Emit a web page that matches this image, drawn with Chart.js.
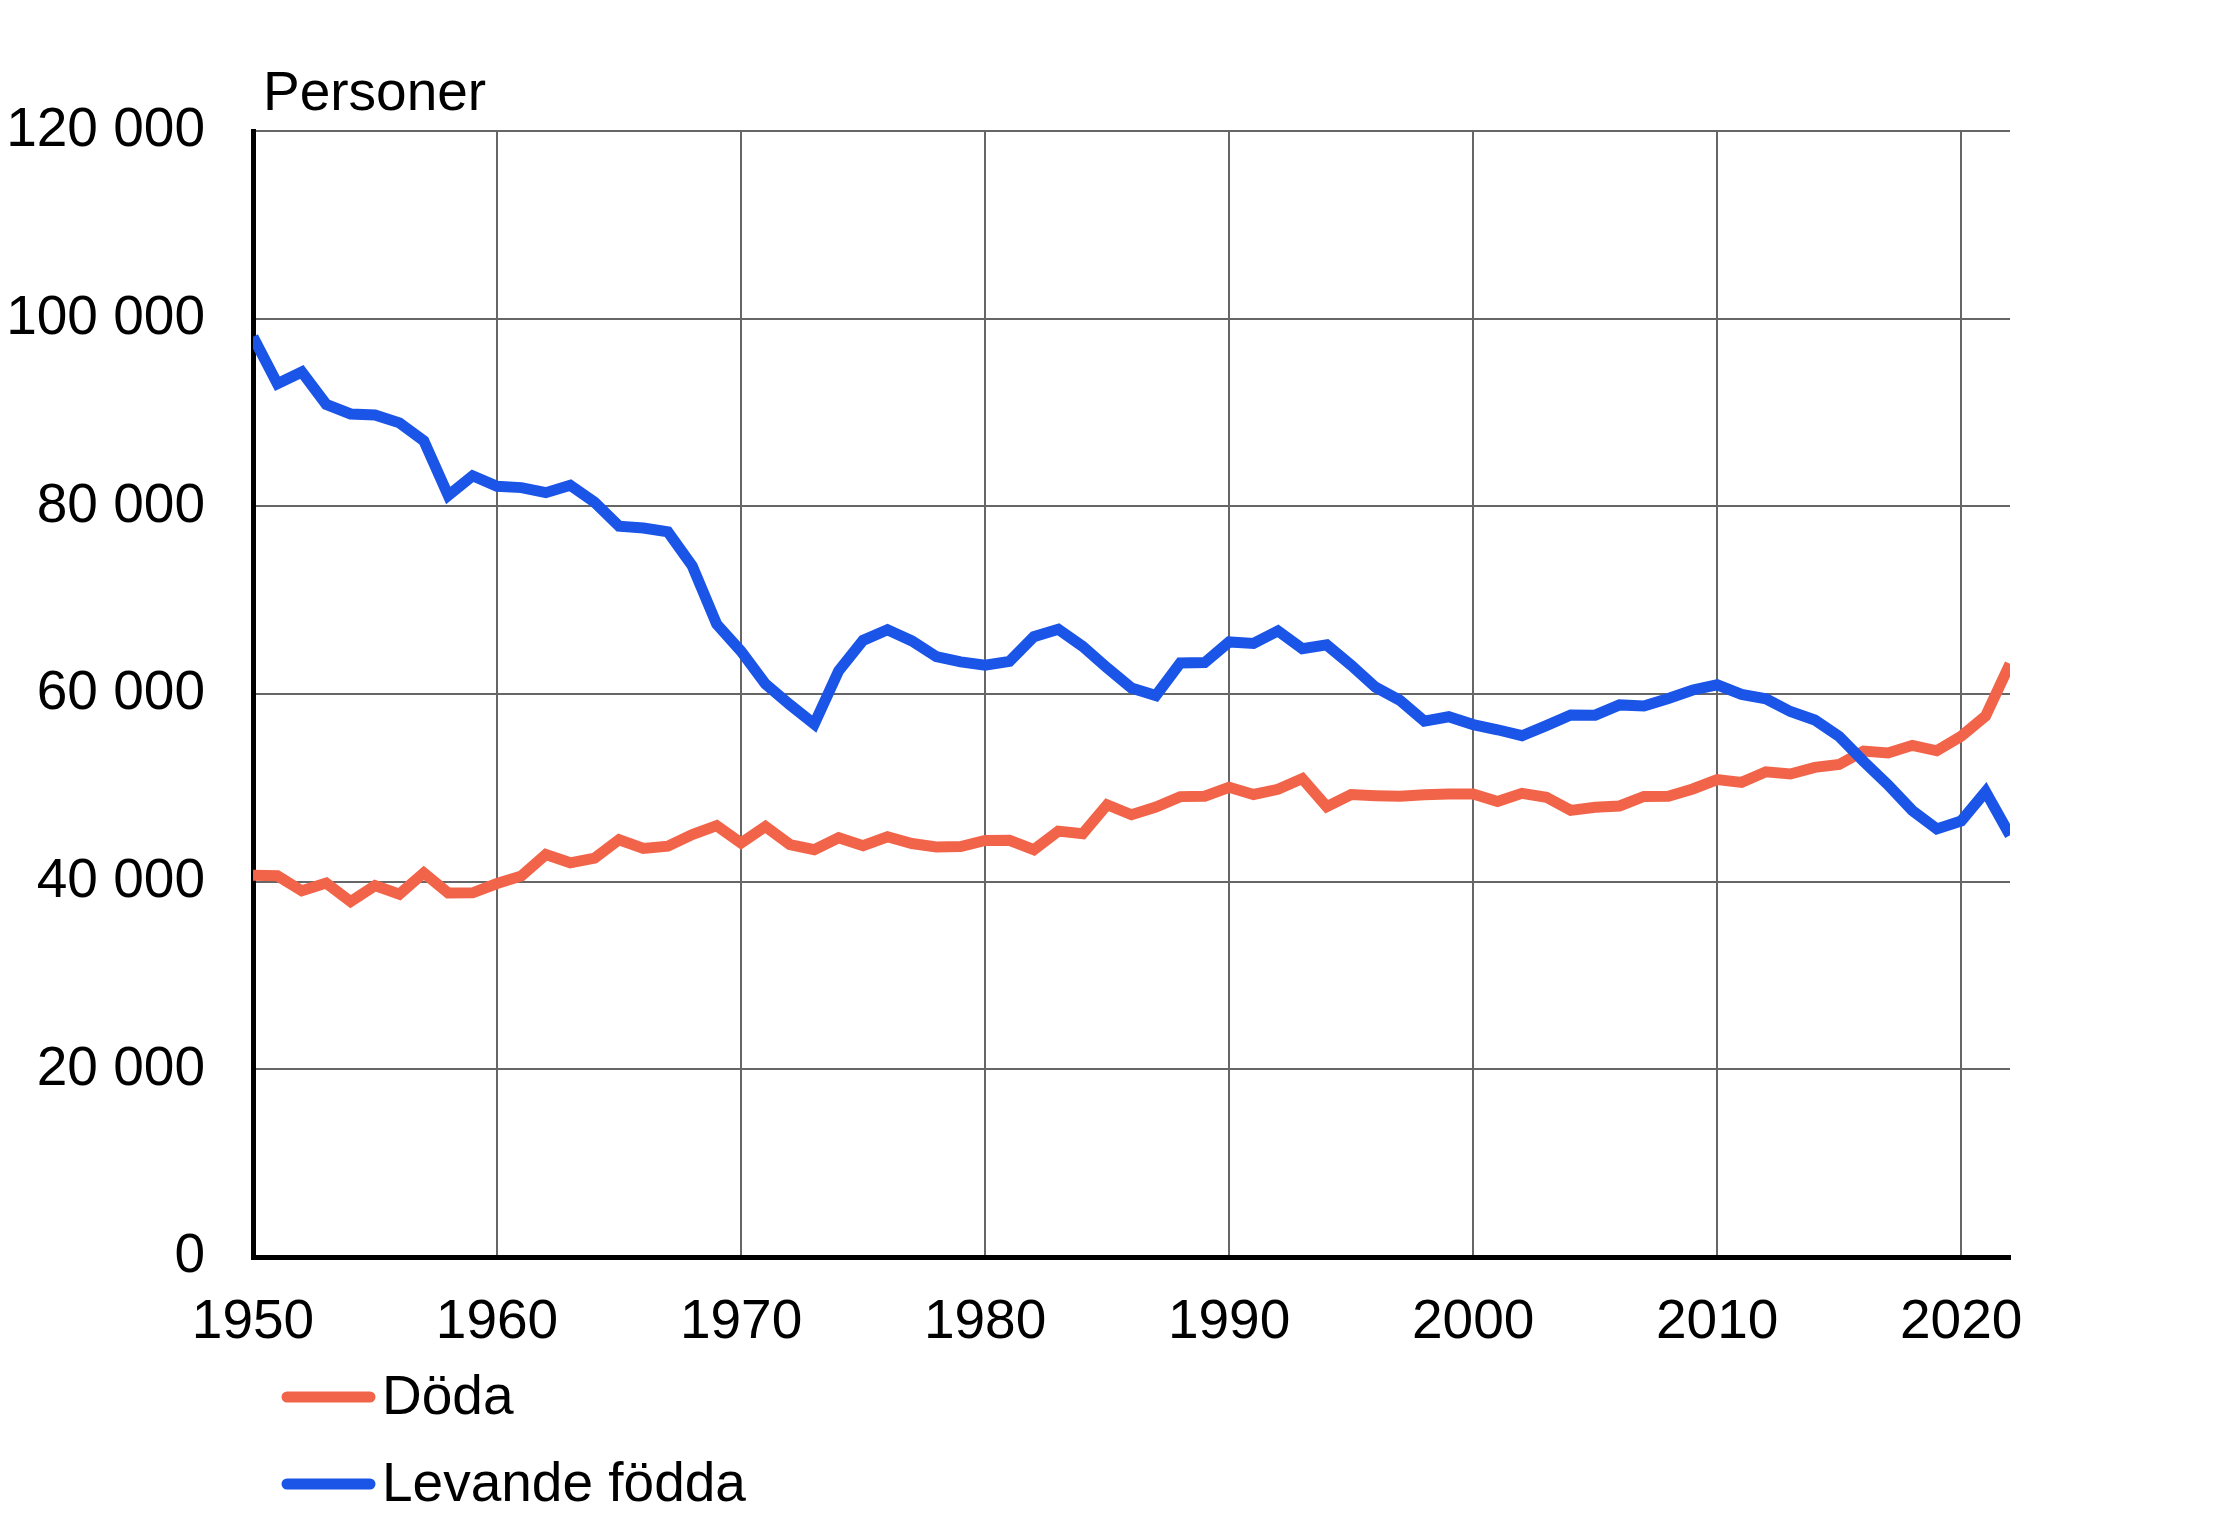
<!DOCTYPE html>
<html lang="sv">
<head>
  <meta charset="UTF-8" />
  <title>Döda och levande födda</title>
  <script src="https://cdn.jsdelivr.net/npm/chart.js"></script>
  <style>
    html, body { margin: 0; padding: 0; background: #fff; }
    .wrap { width: 2221px; height: 1528px; position: relative; }
  </style>
</head>
<body>
  <div class="wrap">
    <canvas id="chart"></canvas>
  </div>

  <script>
    // data
    const years = [];
    for (let y = 1950; y <= 2022; y++) years.push(y);

    const doda = [
      40681, 40626, 39020, 39845, 37883, 39573, 38658, 40932, 38784, 38807,
      39797, 40616, 42889, 42010, 42512, 44473, 43548, 43790, 45013, 45966,
      44119, 45876, 43958, 43410, 44676, 43828, 44786, 44065, 43692, 43738,
      44398, 44404, 43408, 45388, 45098, 48198, 47135, 47949, 49063, 49110,
      50058, 49294, 49844, 50988, 48000, 49280, 49167, 49108, 49262, 49345,
      49339, 48550, 49418, 48996, 47600, 47928, 48065, 49077, 49094, 49883,
      50887, 50585, 51707, 51472, 52186, 52492, 53923, 53722, 54527, 53949,
      55488, 57659, 63219
    ];

    const levandeFodda = [
      98065, 93063, 94314, 90866, 89845, 89740, 88896, 86985, 81148, 83253,
      82129, 81996, 81454, 82251, 80428, 77885, 77697, 77289, 73654, 67450,
      64559, 61067, 58864, 56787, 62472, 65719, 66846, 65659, 63983, 63428,
      63064, 63469, 66106, 66892, 65076, 62796, 60632, 59827, 63316, 63348,
      65549, 65395, 66731, 64826, 65231, 63067, 60723, 59329, 57108, 57574,
      56742, 56189, 55555, 56630, 57758, 57745, 58840, 58729, 59530, 60430,
      60980, 59961, 59493, 58134, 57232, 55472, 52814, 50321, 47577, 45613,
      46463, 49594, 44951
    ];

    const seriesNames = ['Döda', 'Levande födda'];
    const yUnit = 'Personer';

    const RED = '#f26449';
    const BLUE = '#1a55e8';
    const FONT = '"Liberation Sans", Arial, sans-serif';
    const FSIZE = 55;

    function pts(vals) {
      return years.map((y, i) => ({ x: y, y: vals[i] }));
    }

    function fmt(v) {
      return String(v).replace(/\B(?=(\d{3})+(?!\d))/g, ' ');
    }

    // unit label top-left and the legend under the axis
    const extras = {
      id: 'extras',
      afterDraw(chart) {
        const c = chart.ctx;
        c.save();
        c.fillStyle = '#000';
        c.font = FSIZE + 'px ' + FONT;
        c.textBaseline = 'alphabetic';
        c.textAlign = 'left';
        c.fillText(yUnit, 263, 110);

        const rows = [1397, 1484];
        chart.data.datasets.forEach((ds, i) => {
          const y = rows[i];
          c.strokeStyle = ds.borderColor;
          c.lineWidth = 11;
          c.lineCap = 'round';
          c.beginPath();
          c.moveTo(287, y);
          c.lineTo(370, y);
          c.stroke();
          c.fillStyle = '#000';
          c.textBaseline = 'middle';
          c.fillText(ds.label, 382, y + 2);
        });
        c.restore();
      }
    };

    const ctx = document.getElementById('chart').getContext('2d');

    new Chart(ctx, {
      type: 'line',
      data: {
        datasets: [
          {
            label: seriesNames[0],
            data: pts(doda),
            borderColor: RED,
            borderWidth: 11,
            pointRadius: 0,
            tension: 0,
            order: 1
          },
          {
            label: seriesNames[1],
            data: pts(levandeFodda),
            borderColor: BLUE,
            borderWidth: 11,
            pointRadius: 0,
            tension: 0,
            order: 0
          }
        ]
      },
      options: {
        responsive: true,
        maintainAspectRatio: false,
        animation: false,
        devicePixelRatio: 1,
        layout: { padding: { left: 0, right: 211, top: 131, bottom: 0 } },
        plugins: {
          legend: { display: false },
          tooltip: { enabled: false }
        },
        scales: {
          x: {
            type: 'linear',
            min: 1950,
            max: 2022,
            afterFit(s) { s.height = 271; },
            grid: { color: '#666', lineWidth: 2, drawTicks: false },
            border: { color: '#000', width: 5 },
            ticks: {
              stepSize: 10,
              includeBounds: false,
              padding: 33,
              color: '#000',
              font: { family: FONT, size: FSIZE },
              maxRotation: 0,
              autoSkip: false,
              callback: v => String(v)
            }
          },
          y: {
            min: 0,
            max: 120000,
            afterFit(s) { s.width = 253; },
            grid: { color: '#666', lineWidth: 2, drawTicks: false },
            border: { color: '#000', width: 5 },
            ticks: {
              stepSize: 20000,
              padding: 48,
              color: '#000',
              font: { family: FONT, size: FSIZE },
              callback: v => fmt(v)
            }
          }
        }
      },
      plugins: [extras]
    });
  </script>
</body>
</html>
